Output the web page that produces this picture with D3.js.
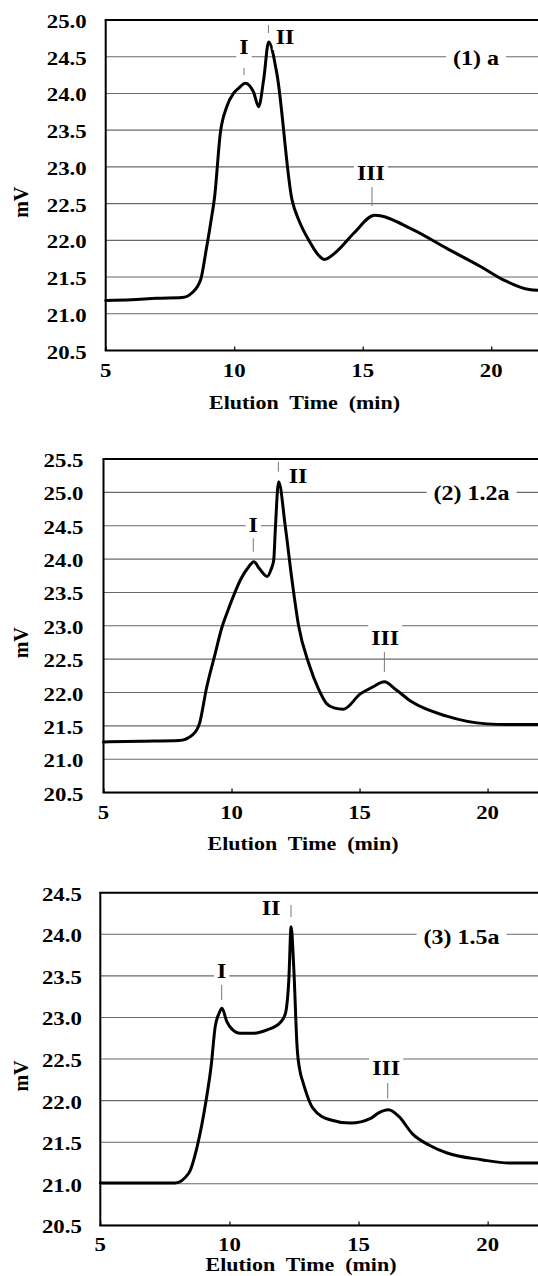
<!DOCTYPE html>
<html>
<head>
<meta charset="utf-8">
<script src="https://cdn.jsdelivr.net/npm/d3@7"></script>
<style>
  html, body { margin: 0; padding: 0; background: #fff; }
  svg { display: block; }
</style>
</head>
<body>
<svg id="chart" width="538" height="1276"></svg>
<script>
// ---------- data ----------
const xTicks = [5, 10, 15, 20];

const yTicks1 = [20.5, 21.0, 21.5, 22.0, 22.5, 23.0, 23.5, 24.0, 24.5, 25.0];
const yTicks2 = [20.5, 21.0, 21.5, 22.0, 22.5, 23.0, 23.5, 24.0, 24.5, 25.0, 25.5];
const yTicks3 = [20.5, 21.0, 21.5, 22.0, 22.5, 23.0, 23.5, 24.0, 24.5];

// Curve (1) a : elution time (min), signal (mV)
const time1 = [5.0, 6.0, 7.0, 7.97, 8.37, 8.7, 8.9, 9.1, 9.24, 9.46, 9.71, 9.97, 10.2, 10.43, 10.75, 10.95, 11.15, 11.34, 11.66, 12.25, 12.52, 12.92, 13.3, 13.5, 13.99, 14.66, 15.46, 16.93, 18.27, 19.6, 20.54, 21.48, 21.85];
const mv1   = [21.18, 21.19, 21.21, 21.22, 21.29, 21.47, 21.85, 22.27, 22.6, 23.46, 23.82, 24.0, 24.08, 24.14, 24.02, 23.82, 24.2, 24.70, 24.27, 22.55, 22.27, 21.99, 21.79, 21.74, 21.85, 22.10, 22.34, 22.15, 21.89, 21.64, 21.45, 21.33, 21.32];

// Curve (2) 1.2a
const time2 = [5.0, 6.5, 7.95, 8.49, 8.76, 9.02, 9.36, 9.62, 9.83, 10.09, 10.35, 10.68, 10.87, 11.1, 11.39, 11.55, 11.65, 11.71, 11.84, 12.1, 12.36, 12.62, 13.03, 13.4, 13.7, 14.0, 14.37, 15.03, 15.5, 15.97, 16.4, 17.04, 18.37, 19.97, 20.77, 21.97];
const mv2   = [21.26, 21.27, 21.28, 21.37, 21.55, 22.06, 22.58, 22.97, 23.2, 23.46, 23.69, 23.89, 23.96, 23.85, 23.74, 23.85, 23.99, 24.44, 25.16, 24.49, 23.69, 23.0, 22.42, 22.05, 21.84, 21.77, 21.75, 21.98, 22.08, 22.16, 22.05, 21.86, 21.65, 21.53, 21.52, 21.52];

// Curve (3) 1.5a
const time3 = [5.0, 6.5, 7.9, 8.43, 8.76, 9.09, 9.29, 9.45, 9.6, 9.71, 9.9, 10.1, 10.42, 10.94, 11.46, 11.97, 12.17, 12.3, 12.39, 12.49, 12.62, 12.75, 12.83, 13.23, 13.89, 14.69, 15.49, 15.76, 16.16, 16.56, 17.09, 17.76, 18.43, 19.76, 20.83, 21.95];
const mv3   = [21.01, 21.01, 21.01, 21.13, 21.46, 21.99, 22.41, 22.89, 23.05, 23.11, 22.95, 22.86, 22.81, 22.81, 22.85, 22.94, 23.05, 23.45, 24.09, 23.61, 22.65, 22.33, 22.24, 21.91, 21.77, 21.73, 21.79, 21.85, 21.89, 21.81, 21.60, 21.46, 21.37, 21.29, 21.25, 21.25];

// Peak annotations: label, x, text baseline (mV), marker top, marker bottom (mV)
const peakLabels1 = ["I", "II", "III"];
const peakTextX1 = [10.38, 11.98, 15.32];
const peakTextY1 = [24.537, 24.68, 22.821];
const peakMarkX1 = [10.38, 11.33, 15.36];
const peakMarkTop1 = [24.346, 24.932, 22.726];
const peakMarkBot1 = [24.251, 24.823, 22.467];

const peakLabels2 = ["I", "II", "III"];
const peakTextX2 = [10.85, 12.6, 16.0];
const peakTextY2 = [24.41, 25.14, 22.71];
const peakMarkX2 = [10.85, 11.83, 15.97];
const peakMarkTop2 = [24.346, 25.46, 22.61];
const peakMarkBot2 = [24.11, 25.31, 22.31];

const peakLabels3 = ["I", "II", "III"];
const peakTextX3 = [9.70, 11.61, 16.07];
const peakTextY3 = [23.471, 24.232, 22.308];
const peakMarkX3 = [9.70, 12.386, 16.13];
const peakMarkTop3 = [23.43, 24.352, 22.212];
const peakMarkBot3 = [23.21, 24.208, 22.026];

const sampleNames = ["(1) a", "(2) 1.2a", "(3) 1.5a"];
const sampleNameX = [19.41, 19.375, 18.99];
const sampleNameY = [24.387, 24.878, 23.889];

const xTitle = "Elution  Time  (min)";
const yTitle = "mV";

// ---------- layout ----------
const FONT = "'Liberation Serif', 'Times New Roman', Times, serif";
const panels = [
  { left: 105.7, top: 20,    bottom: 350.5,  xMax: 21.82, yMin: 20.5, yMax: 25.0, yTicks: yTicks1,
    time: time1, mv: mv1, labels: peakLabels1, tx: peakTextX1, ty: peakTextY1, mx: peakMarkX1, mt: peakMarkTop1, mb: peakMarkBot1,
    name: 0, labelGap: 19, xTitleX: 304.5, xTitleY: 409 },
  { left: 103.5, top: 459,   bottom: 792.6,  xMax: 21.97, yMin: 20.5, yMax: 25.5, yTicks: yTicks2,
    time: time2, mv: mv2, labels: peakLabels2, tx: peakTextX2, ty: peakTextY2, mx: peakMarkX2, mt: peakMarkTop2, mb: peakMarkBot2,
    name: 1, labelGap: 20, xTitleX: 303, xTitleY: 850 },
  { left: 100.3, top: 892.7, bottom: 1225.4, xMax: 21.95, yMin: 20.5, yMax: 24.5, yTicks: yTicks3,
    time: time3, mv: mv3, labels: peakLabels3, tx: peakTextX3, ty: peakTextY3, mx: peakMarkX3, mt: peakMarkTop3, mb: peakMarkBot3,
    name: 2, labelGap: 18.5, xTitleX: 301, xTitleY: 1271 }
];
const W = 538;
const SX = 1.2; // horizontal stretch of the lettering in the original

const svg = d3.select("#chart");

function stretchedText(g, x, y, str, size, anchor) {
  const gg = g.append("g").attr("transform", `translate(${x},${y}) scale(${SX},1)`);
  return gg.append("text")
    .attr("x", 0).attr("y", 0)
    .attr("text-anchor", anchor)
    .attr("font-family", FONT).attr("font-weight", "bold").attr("fill", "#000")
    .attr("font-size", size)
    .text(str);
}

panels.forEach(p => {
  const x = d3.scaleLinear().domain([5, p.xMax]).range([p.left, W]);
  const y = d3.scaleLinear().domain([p.yMin, p.yMax]).range([p.bottom, p.top]);
  const g = svg.append("g");

  // gridlines
  g.append("g").selectAll("line").data(p.yTicks).join("line")
    .attr("x1", p.left).attr("x2", W)
    .attr("y1", d => y(d)).attr("y2", d => y(d))
    .attr("stroke", "#6a6a6a").attr("stroke-width", 1.1);

  // x axis with small inward ticks
  const xAxis = d3.axisBottom(x).tickValues(xTicks).tickSizeInner(-4).tickSizeOuter(0).tickFormat("");
  const xa = g.append("g").attr("transform", `translate(0,${p.bottom})`).call(xAxis);
  xa.select(".domain").remove();
  xa.selectAll(".tick line").attr("stroke", "#000").attr("stroke-width", 1.2);

  // x tick labels
  xTicks.forEach(t => stretchedText(g, x(t), p.bottom + 26, String(t), 19, "middle"));

  // y tick labels
  p.yTicks.forEach(t => stretchedText(g, p.left - p.labelGap, y(t) + 8, t.toFixed(1), 19, "end"));

  // frame: left, bottom, top
  g.append("line").attr("x1", p.left).attr("x2", p.left).attr("y1", p.top).attr("y2", p.bottom)
    .attr("stroke", "#000").attr("stroke-width", 2);
  g.append("line").attr("x1", p.left - 1).attr("x2", W).attr("y1", p.bottom).attr("y2", p.bottom)
    .attr("stroke", "#000").attr("stroke-width", 2);
  g.append("line").attr("x1", p.left - 1).attr("x2", W).attr("y1", p.top).attr("y2", p.top)
    .attr("stroke", "#000").attr("stroke-width", 2);

  // curve
  const pts = p.time.map((t, i) => [t, p.mv[i]]);
  const line = d3.line().x(d => x(d[0])).y(d => y(d[1])).curve(d3.curveMonotoneX);
  g.append("path").attr("d", line(pts))
    .attr("fill", "none").attr("stroke", "#000").attr("stroke-width", 3)
    .attr("stroke-linejoin", "round").attr("stroke-linecap", "round");

  // peak markers
  p.labels.forEach((lab, i) => {
    g.append("line")
      .attr("x1", x(p.mx[i])).attr("x2", x(p.mx[i]))
      .attr("y1", y(p.mt[i])).attr("y2", y(p.mb[i]))
      .attr("stroke", "#777").attr("stroke-width", 1);
  });

  // labels with white background (breaking gridlines)
  const addLabel = (str, cx, by, size, padX, padY) => {
    const lg = g.append("g");
    const rect = lg.append("rect").attr("fill", "#fff");
    const t = stretchedText(lg, cx, by, str, size, "middle");
    const bb = t.node().getBBox();
    const w = bb.width * SX;
    rect.attr("x", cx - w / 2 - padX).attr("y", by + bb.y - padY)
      .attr("width", w + 2 * padX).attr("height", bb.height + 2 * padY);
  };
  p.labels.forEach((lab, i) => addLabel(lab, x(p.tx[i]), y(p.ty[i]), 20, 3, 2));
  addLabel(sampleNames[p.name], x(sampleNameX[p.name]), y(sampleNameY[p.name]), 20, 7, 1);

  // axis titles
  svg.append("text")
    .attr("x", p.xTitleX).attr("y", p.xTitleY)
    .attr("text-anchor", "middle")
    .attr("textLength", 191).attr("lengthAdjust", "spacingAndGlyphs")
    .attr("font-family", FONT).attr("font-weight", "bold").attr("font-size", 19)
    .style("white-space", "pre")
    .text(xTitle);

  const cy = (p.top + p.bottom) / 2 + 17;
  svg.append("text")
    .attr("transform", `translate(28,${cy}) rotate(-90)`)
    .attr("text-anchor", "middle")
    .attr("font-family", FONT).attr("font-weight", "bold").attr("font-size", 20)
    .text(yTitle);
});
</script>
</body>
</html>
